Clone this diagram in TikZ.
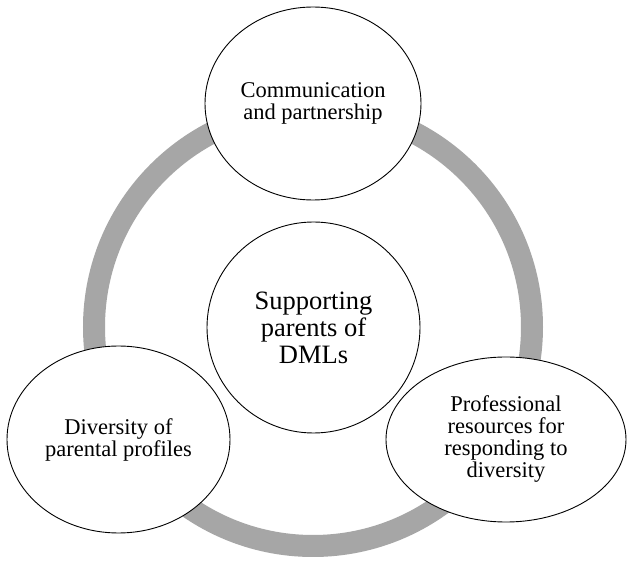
\documentclass[tikz,border=0pt]{standalone}
\usepackage{fontspec}
\setmainfont{Liberation Serif}
\usetikzlibrary{shapes.geometric}
\definecolor{ringgray}{HTML}{A6A6A6}
\tikzset{
  bubble/.style={ellipse, draw=black, line width=0.9pt, fill=white, inner sep=0pt, align=center,
     font=\fontsize{22.5}{22}\selectfont},
  hub/.style={bubble, font=\fontsize{26.5}{27}\selectfont},
}
\begin{document}
\begin{tikzpicture}[x=1pt,y=1pt]
\useasboundingbox (0,0) rectangle (633,563);
\fill[white] (0,0) rectangle (633,563);
% ring centre at image (313,327)
\coordinate (ringc) at (313,236);
\draw[ringgray, line width=22pt] (ringc) circle[radius=219];
\node[bubble, minimum width=216pt, minimum height=193pt] (comm) at (313,459.5)
  {Communication\\and partnership};
\node[hub, minimum width=213pt, minimum height=211pt] (hubnode) at (313.5,235.5)
  {Supporting\\parents of\\DMLs};
\node[bubble, minimum width=223pt, minimum height=187pt] (div) at (118.5,123.5)
  {Diversity of\\parental profiles};
\node[bubble, minimum width=240pt, minimum height=165pt] (prof) at (506,123.5)
  {Professional\\resources for\\responding to\\diversity};
\end{tikzpicture}
\end{document}
